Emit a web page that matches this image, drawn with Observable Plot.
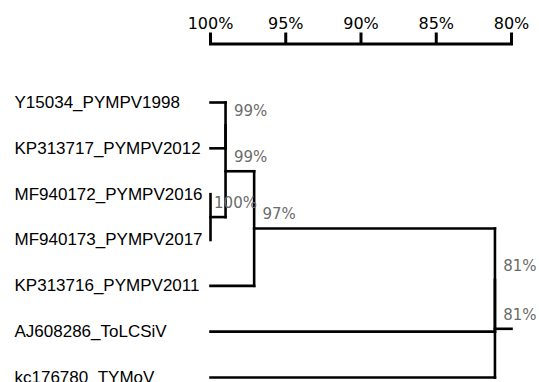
<!DOCTYPE html>
<html>
<head>
<meta charset="utf-8">
<script src="https://cdn.jsdelivr.net/npm/d3@7"></script>
<script src="https://cdn.jsdelivr.net/npm/@observablehq/plot@0.6"></script>
<style>
  html, body { margin: 0; padding: 0; background: #fff; }
  #chart svg { display: block; }
</style>
</head>
<body>
<div id="chart"></div>
<script>
// Leaves, top to bottom
const leafNames = [
  "Y15034_PYMPV1998",
  "KP313717_PYMPV2012",
  "MF940172_PYMPV2016",
  "MF940173_PYMPV2017",
  "KP313716_PYMPV2011",
  "AJ608286_ToLCSiV",
  "kc176780_TYMoV"
];
const leafIdentity = 100;

// Internal clusters (children, identity %, label)
const nodeIds = ["n1", "n2", "n3", "n4", "n5", "n6"];
const nodeChildren = [
  ["Y15034_PYMPV1998", "KP313717_PYMPV2012"],
  ["MF940172_PYMPV2016", "MF940173_PYMPV2017"],
  ["n1", "n2"],
  ["n3", "KP313716_PYMPV2011"],
  ["n4", "AJ608286_ToLCSiV"],
  ["n5", "kc176780_TYMoV"]
];
const nodeIdentity = [99, 100, 99, 97.1, 81.1, 81.1];
const nodeLabels = ["99%", "100%", "99%", "97%", "81%", "81%"];
const rootStubEnd = 80;

// Top identity axis
const axisTicks = [100, 95, 90, 85, 80];

// ---- build tree geometry from the data ----
const pos = new Map();
leafNames.forEach((n, i) => pos.set(n, {x: leafIdentity, y: i}));
nodeIds.forEach((id, i) => {
  const ys = nodeChildren[i].map(c => pos.get(c).y);
  pos.set(id, {x: nodeIdentity[i], y: (Math.min(...ys) + Math.max(...ys)) / 2});
});
const hSegs = [], vSegs = [];
nodeIds.forEach((id, i) => {
  const p = pos.get(id);
  const ys = [];
  nodeChildren[i].forEach(c => {
    const q = pos.get(c);
    ys.push(q.y);
    if (q.x !== p.x) hSegs.push({x1: q.x, x2: p.x, y: q.y});
  });
  vSegs.push({x: p.x, y1: Math.min(...ys), y2: Math.max(...ys)});
});
const root = pos.get(nodeIds[nodeIds.length - 1]);
hSegs.push({x1: root.x, x2: rootStubEnd, y: root.y});

const leafTable = leafNames.map((n, i) => ({name: n, x: leafIdentity, y: i}));
const nodeTable = nodeIds.map((id, i) => ({label: nodeLabels[i], ...pos.get(id)}));

const chart = Plot.plot({
  width: 539,
  height: 382,
  marginLeft: 210,
  marginRight: 28,
  marginTop: 43.5,
  marginBottom: 5,
  x: {domain: [100, 80]},
  y: {domain: [0, 6], range: [102, 377], axis: null},
  marks: [
    Plot.frame({anchor: "top", stroke: "black", strokeWidth: 3, strokeLinecap: "square"}),
    Plot.axisX(axisTicks, {
      anchor: "top", tickSize: 12, strokeWidth: 3, tickPadding: 3,
      tickFormat: d => d + "%", fontSize: 16, fontFamily: "DejaVu Sans", color: "black"
    }),
    Plot.link(hSegs, {x1: "x1", x2: "x2", y1: "y", y2: "y", stroke: "black", strokeWidth: 2.6, strokeLinecap: "square"}),
    Plot.link(vSegs, {x1: "x", x2: "x", y1: "y1", y2: "y2", stroke: "black", strokeWidth: 2.6, strokeLinecap: "square"}),
    Plot.text(leafTable, {
      x: "x", y: "y", text: "name", textAnchor: "start", dx: -196,
      fontSize: 17, fontFamily: "Liberation Sans, Arial, sans-serif", fill: "black"
    }),
    Plot.text(nodeTable, {
      x: "x", y: "y", text: "label", textAnchor: "middle", dx: 25, dy: -14,
      fontSize: 15, fontFamily: "DejaVu Sans, sans-serif", fill: "#6b6b6b"
    })
  ]
});
document.getElementById("chart").appendChild(chart);
</script>
</body>
</html>
